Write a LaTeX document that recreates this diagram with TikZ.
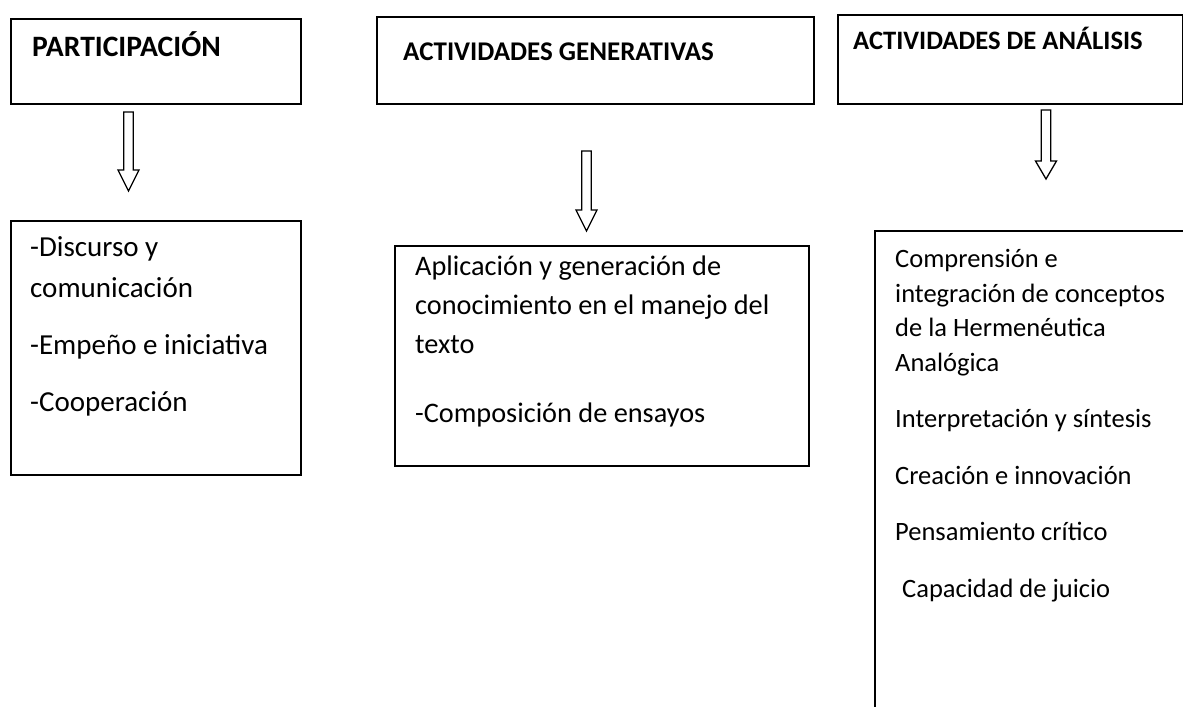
\documentclass[tikz,border=0pt]{standalone}
\usepackage{fontspec}
\setmainfont{Carlito}
\newcommand\hollowdown[5]{% cx, top, base, tip, name
  \coordinate (#5) at (#1,#2);
  \draw[harrow] (#1-4.75,#2) -- (#1+4.75,#2) -- (#1+4.75,#3) -- (#1+10.5,#3)
    -- (#1,#4) -- (#1-10.5,#3) -- (#1-4.75,#3) -- cycle;}
\begin{document}
\begin{tikzpicture}[x=1bp,y=-1bp,
  box/.style={draw=black, line width=1.8bp, rectangle, inner sep=0pt, anchor=north west},
  harrow/.style={draw=black, line width=1.3bp, fill=white, line join=miter},
  head/.style={anchor=base west, inner sep=0pt, font=\bfseries\fontsize{#1}{#1}\selectfont},
  body/.style={anchor=base west, inner sep=0pt, align=left}]
\useasboundingbox (0,0) rectangle (1183,707);
\clip (0,0) rectangle (1183,707);
% header boxes
\node[box, minimum width=290bp, minimum height=85bp] (h1) at (10,18) {};
\node[box, minimum width=437bp, minimum height=87bp] (h2) at (376,16) {};
\node[box, minimum width=345bp, minimum height=89bp] (h3) at (837,14) {};
\node[head=29.6bp] (h1t) at (32,57) {PARTICIPACIÓN};
\node[head=27bp] (h2t) at (403,61) {ACTIVIDADES GENERATIVAS};
\node[head=26.6bp] (h3t) at (853,50) {ACTIVIDADES DE ANÁLISIS};
% content boxes
\node[box, minimum width=290bp, minimum height=254bp] (b1) at (10,220) {};
\node[box, minimum width=414bp, minimum height=220bp] (b2) at (394,245) {};
\node[box, minimum width=340bp, minimum height=500bp] (b3) at (874,230) {};
\node[body, font=\fontsize{29bp}{41bp}\selectfont] (b1t) at (30,411)
  {-Discurso y\\comunicación\\[16bp]-Empeño e iniciativa\\[16bp]-Cooperación};
\node[body, font=\fontsize{28.3bp}{39bp}\selectfont] (b2t) at (415,422)
  {Aplicación y generación de\\conocimiento en el manejo del\\texto\\[30bp]-Composición de ensayos};
\node[body, font=\fontsize{26.5bp}{34.5bp}\selectfont] (b3t) at (895,597)
  {Comprensión e\\integración de conceptos\\de la Hermenéutica\\Analógica\\[22bp]Interpretación y síntesis\\[22bp]Creación e innovación\\[22bp]Pensamiento crítico\\[22bp]\hspace{7bp}Capacidad de juicio};
% arrows
\hollowdown{128.5}{112}{170}{191}{a1}
\hollowdown{586.5}{151}{210}{231}{a2}
\hollowdown{1046}{110}{161}{179}{a3}
\end{tikzpicture}
\end{document}
